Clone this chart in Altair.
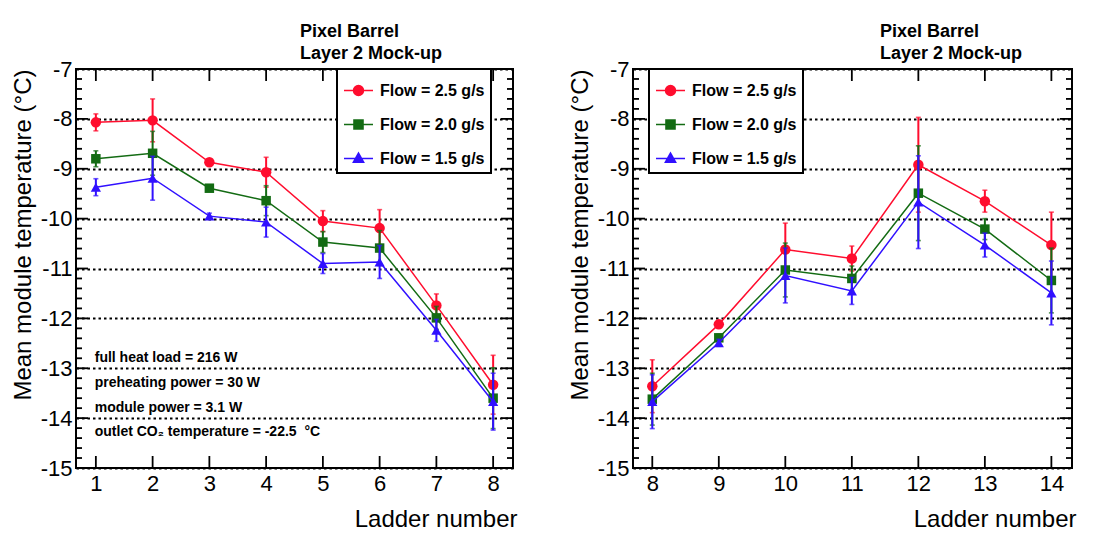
import altair as alt
import pandas as pd

FONT = "Liberation Sans"

series_names = ["Flow = 2.5 g/s", "Flow = 2.0 g/s", "Flow = 1.5 g/s"]
series_colors = ["#ff0d2e", "#136b13", "#3010ff"]
series_shapes = ["circle", "square", "triangle-up"]
series_sizes = [110, 90, 105]

# Left panel: ladders 1-8
ladders_left = [1, 2, 3, 4, 5, 6, 7, 8]
temp_left_25 = [-8.07, -8.03, -8.87, -9.07, -10.05, -10.19, -11.74, -13.33]
err_left_25 = [0.17, 0.43, 0.04, 0.30, 0.21, 0.37, 0.23, 0.59]
temp_left_20 = [-8.80, -8.69, -9.39, -9.64, -10.47, -10.59, -11.99, -13.60]
err_left_20 = [0.16, 0.44, 0.05, 0.30, 0.21, 0.35, 0.23, 0.61]
temp_left_15 = [-9.37, -9.19, -9.95, -10.07, -10.90, -10.87, -12.24, -13.67]
err_left_15 = [0.17, 0.44, 0.06, 0.30, 0.20, 0.33, 0.22, 0.57]

# Right panel: ladders 8-14
ladders_right = [8, 9, 10, 11, 12, 13, 14]
temp_right_25 = [-13.36, -12.12, -10.62, -10.80, -8.92, -9.65, -10.53]
err_right_25 = [0.53, 0.07, 0.53, 0.25, 0.95, 0.22, 0.66]
temp_right_20 = [-13.62, -12.39, -11.03, -11.20, -9.49, -10.21, -11.24]
err_right_20 = [0.52, 0.07, 0.54, 0.25, 0.95, 0.21, 0.65]
temp_right_15 = [-13.67, -12.49, -11.14, -11.45, -9.67, -10.53, -11.49]
err_right_15 = [0.54, 0.07, 0.55, 0.27, 0.93, 0.24, 0.64]

y_major = [-7, -8, -9, -10, -11, -12, -13, -14, -15]
y_minor = [round(m - 0.2 * k, 1) for m in y_major[:-1] for k in (1, 2, 3, 4)]

title_lines = ["Pixel Barrel", "Layer 2 Mock-up"]
x_title = "Ladder number"
y_title = "Mean module temperature (°C)"

note_lines = [
    "full heat load = 216 W",
    "preheating power = 30 W",
    "module power = 3.1 W",
    "outlet CO\u2082 temperature = -22.5\u00a0 °C",
]
note_x = [0.98, 0.98, 0.98, 0.98]
note_y = [-12.87, -13.37, -13.87, -14.36]

legend_paths = [
    "M-1,0H1M0.34,0A0.34,0.34,0,1,1,-0.34,0A0.34,0.34,0,1,1,0.34,0Z",
    "M-1,0H1M-0.31,-0.31H0.31V0.31H-0.31Z",
    "M-1,0H1M0,-0.37L0.35,0.25H-0.35Z",
]


def make_df(ladders, temps, errs):
    rows = []
    for name, t, e in zip(series_names, temps, errs):
        for lad, v, er in zip(ladders, t, e):
            rows.append({"ladder": lad, "temp": v, "lo": v - er, "hi": v + er, "series": name})
    return pd.DataFrame(rows)


def panel(ladders, temps, errs, xdom, W, H, title_dx, legend_x, notes=False):
    df = make_df(ladders, temps, errs)
    xs = alt.Scale(domain=xdom, nice=False, zero=False)
    ys = alt.Scale(domain=[-15, -7], nice=False, zero=False)
    xax = alt.Axis(values=ladders, title=x_title, grid=False, domain=False, ticks=False,
                   labelPadding=5, titleAnchor="end", titleAlign="right", titleX=W + 4,
                   titlePadding=13, titleFontSize=24, labelExpr="'' + datum.value",
                   labelFlush=False)
    yax = alt.Axis(values=y_major, title=y_title, grid=True, gridDash=[2.5, 3],
                   gridColor="black", gridWidth=2, domain=False, ticks=False,
                   labelPadding=4, titleAnchor="end", titlePadding=5, titleFontSize=24,
                   labelExpr="'' + datum.value")
    X = lambda f: alt.X(f, type="quantitative", scale=xs, axis=xax)
    Y = lambda f: alt.Y(f, type="quantitative", scale=ys, axis=yax)

    layers = []
    ymaj = pd.DataFrame({"v": y_major})
    ymin = pd.DataFrame({"v": y_minor})
    xmaj = pd.DataFrame({"v": ladders})
    tick_style = dict(color="black", strokeWidth=1.8)
    layers.append(alt.Chart(ymaj).mark_rule(**tick_style).encode(y=Y("v"), x=alt.value(0), x2=alt.value(12)))
    layers.append(alt.Chart(ymaj).mark_rule(**tick_style).encode(y=Y("v"), x=alt.value(W - 12), x2=alt.value(W)))
    layers.append(alt.Chart(ymin).mark_rule(**tick_style).encode(y=Y("v"), x=alt.value(0), x2=alt.value(6)))
    layers.append(alt.Chart(ymin).mark_rule(**tick_style).encode(y=Y("v"), x=alt.value(W - 6), x2=alt.value(W)))
    layers.append(alt.Chart(xmaj).mark_rule(**tick_style).encode(x=X("v"), y=alt.value(H - 12), y2=alt.value(H)))
    layers.append(alt.Chart(xmaj).mark_rule(**tick_style).encode(x=X("v"), y=alt.value(0), y2=alt.value(12)))

    for name, col, shp, sz in zip(series_names, series_colors, series_shapes, series_sizes):
        base = alt.Chart(df).transform_filter(alt.datum.series == name)
        layers.append(base.mark_line(color=col, strokeWidth=1.5).encode(x=X("ladder"), y=Y("temp")))
        layers.append(base.mark_rule(color=col, strokeWidth=2).encode(x=X("ladder"), y=Y("lo"), y2="hi"))
        layers.append(base.mark_tick(color=col, orient="horizontal", size=5, thickness=1.6).encode(x=X("ladder"), y=Y("lo")))
        layers.append(base.mark_tick(color=col, orient="horizontal", size=5, thickness=1.6).encode(x=X("ladder"), y=Y("hi")))
        layers.append(base.mark_point(shape=shp, filled=True, size=sz, color=col, opacity=1).encode(x=X("ladder"), y=Y("temp")))

    if notes:
        ndf = pd.DataFrame({"t": note_lines, "x": note_x, "y": note_y})
        layers.append(alt.Chart(ndf).mark_text(align="left", baseline="alphabetic", font=FONT,
                                                fontSize=14, fontWeight="bold", color="black")
                      .encode(x=X("x"), y=Y("y"), text="t:N"))

    leg = alt.Legend(title=None, orient="none", legendX=legend_x, legendY=0,
                     symbolSize=841, symbolStrokeWidth=1.6, symbolOpacity=1,
                     labelFont=FONT, labelFontSize=16,
                     labelFontWeight="bold", labelColor="black", labelOffset=6, padding=6,
                     rowPadding=10, strokeColor="black", fillColor="white")
    layers.append(
        alt.Chart(df).transform_filter("false").mark_point(filled=True, opacity=1).encode(
            fill=alt.Fill("series:N", scale=alt.Scale(domain=series_names, range=series_colors), legend=leg),
            stroke=alt.Stroke("series:N", scale=alt.Scale(domain=series_names, range=series_colors), legend=leg),
            shape=alt.Shape("series:N", scale=alt.Scale(domain=series_names, range=legend_paths), legend=leg),
        )
    )
    return alt.layer(*layers).properties(
        width=W, height=H,
        title=alt.TitleParams(text=title_lines, anchor="start", frame="group", dx=title_dx,
                              fontSize=18, fontWeight="bold", font=FONT, lineHeight=22,
                              offset=-5, color="black"),
    )


left = panel(ladders_left, [temp_left_25, temp_left_20, temp_left_15],
             [err_left_25, err_left_20, err_left_15], [0.65, 8.35], 437, 399, 224, 261, notes=True)
right = panel(ladders_right, [temp_right_25, temp_right_20, temp_right_15],
              [err_right_25, err_right_20, err_right_15], [7.71, 14.31], 439, 399, 247, 16)

chart = alt.hconcat(left, right, spacing=49).resolve_scale(
    fill="independent", stroke="independent", shape="independent"
).resolve_legend(
    fill="independent", stroke="independent", shape="independent"
).properties(
    padding={"left": 2, "top": 14, "right": 0, "bottom": 0}
).configure_view(stroke="black", strokeWidth=2).configure_axis(
    labelFont=FONT, titleFont=FONT, labelFontSize=22, titleFontSize=22.5,
    labelColor="black", titleColor="black", titleFontWeight="normal"
).configure_legend(strokeWidth=2)

chart.save("out.html", embed_options={"renderer": "svg", "actions": False})
